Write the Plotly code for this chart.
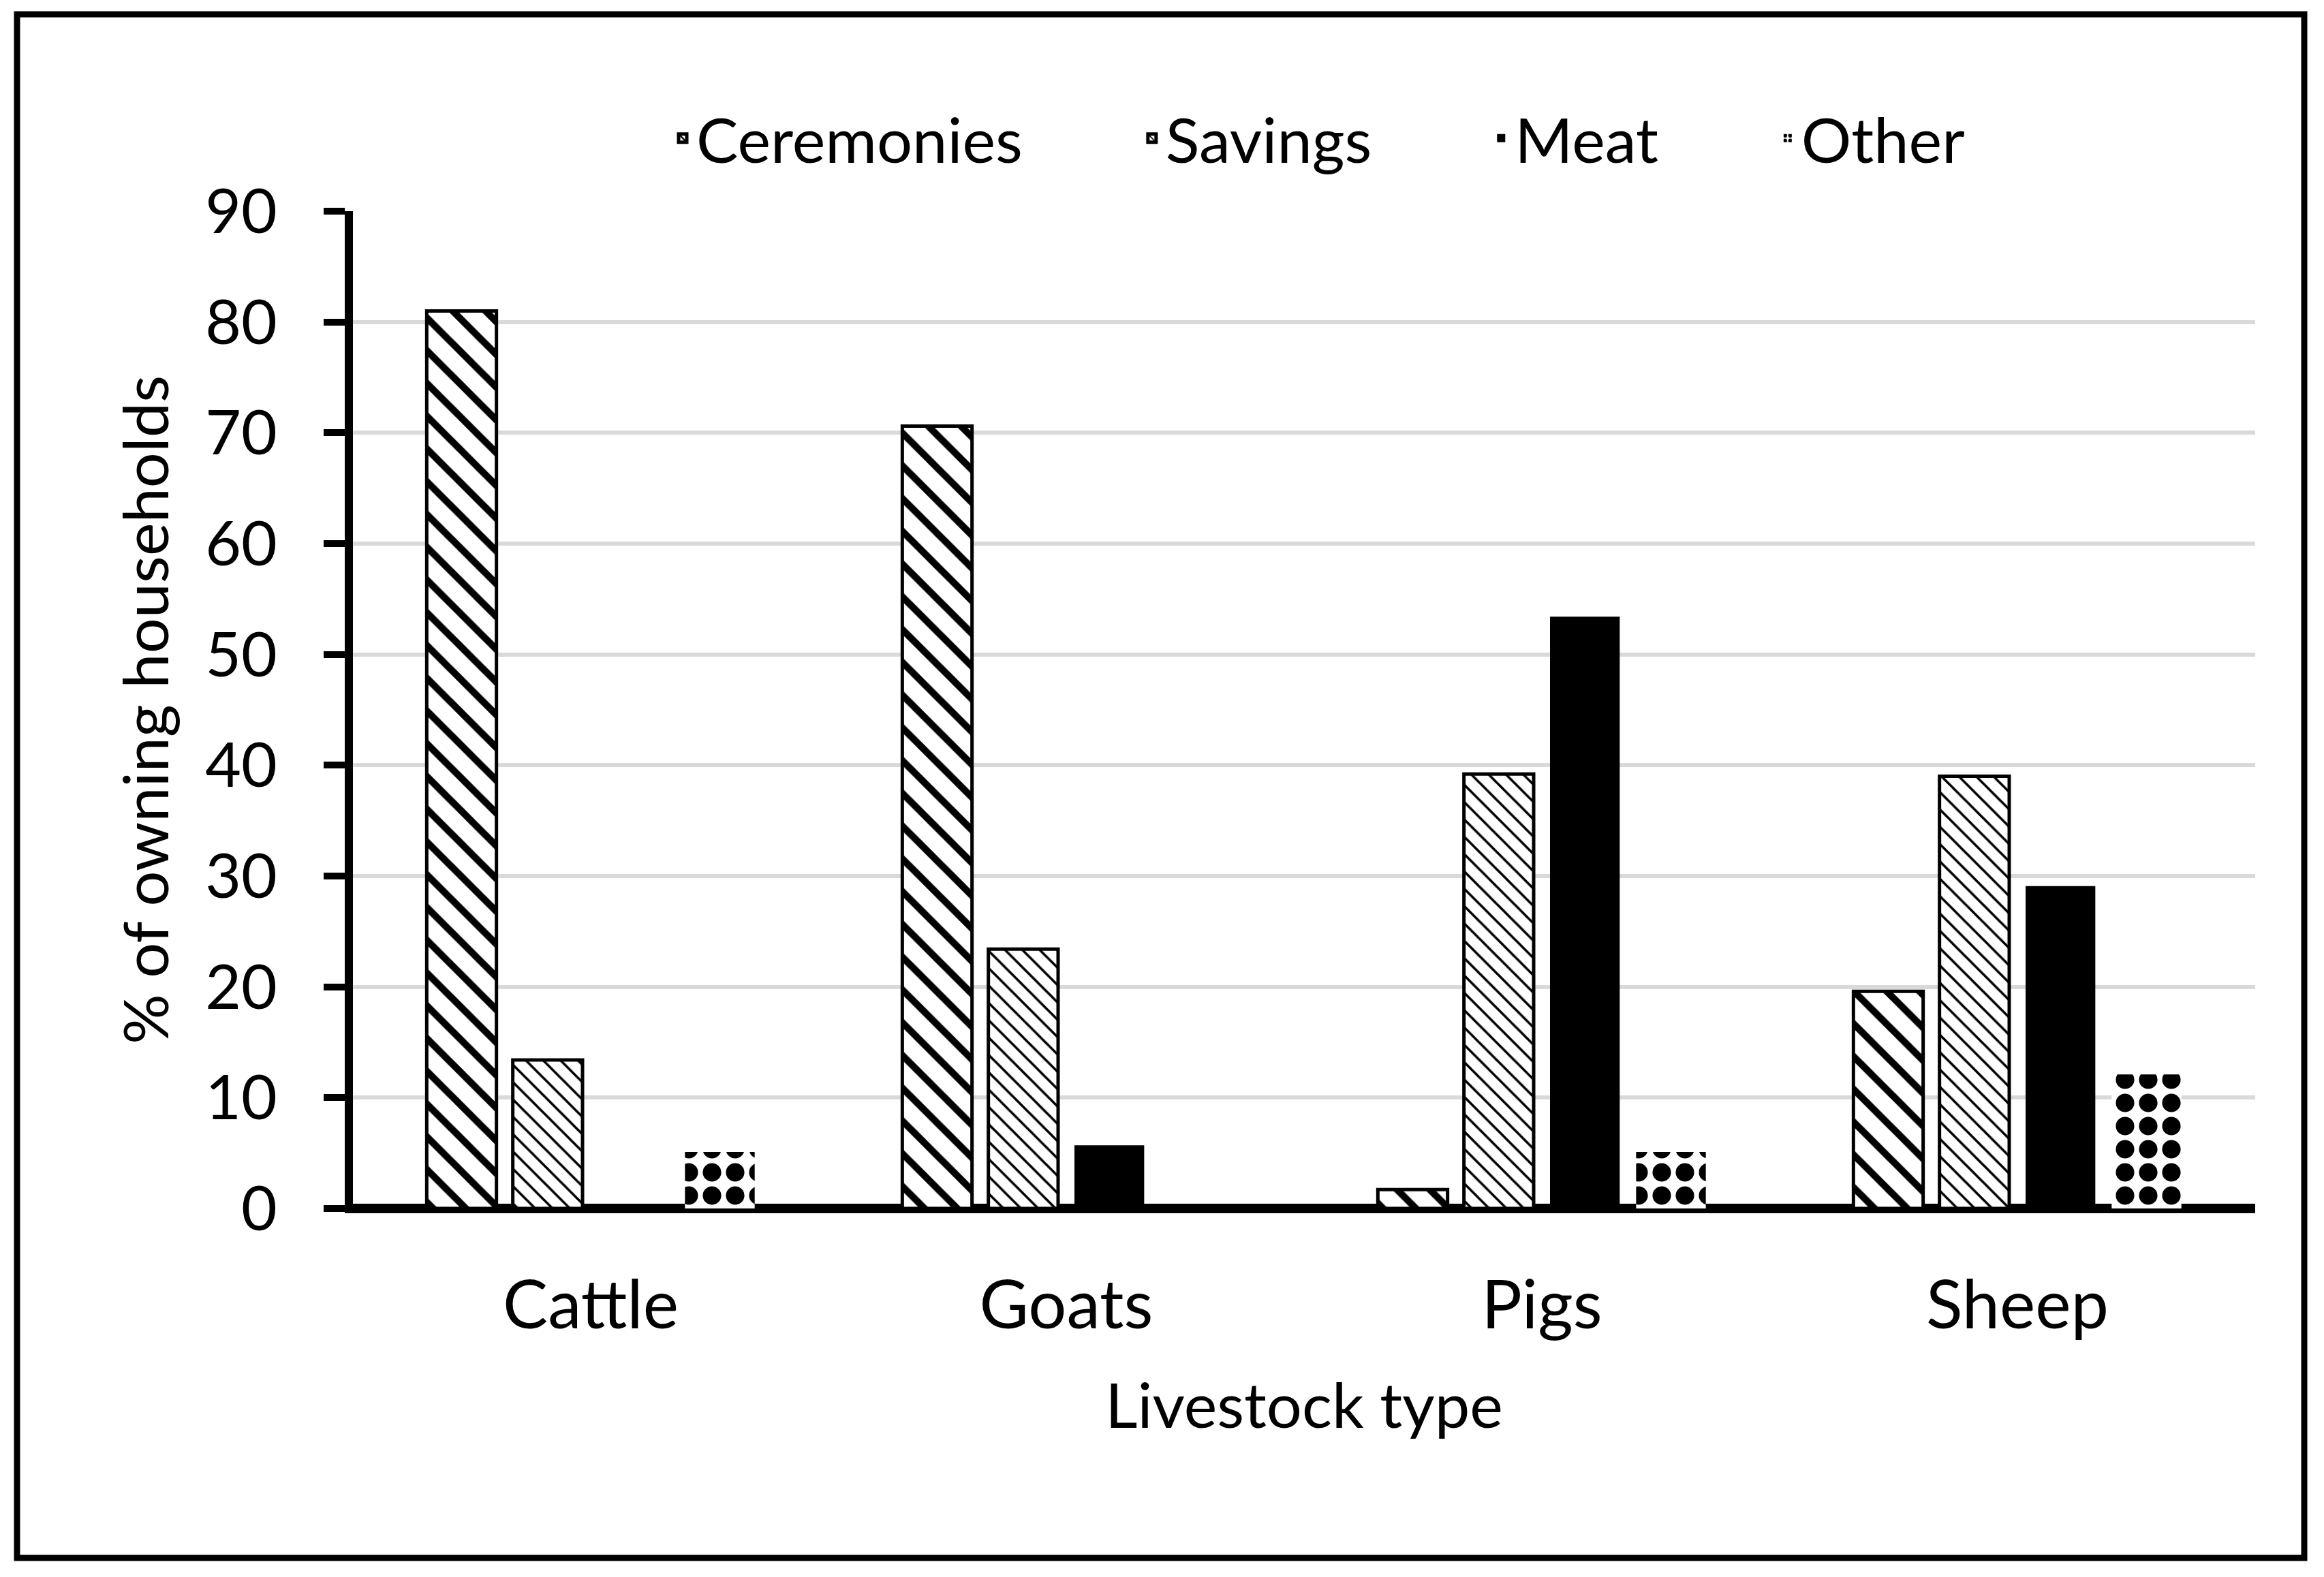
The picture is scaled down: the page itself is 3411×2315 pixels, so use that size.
import plotly.graph_objects as go

# ---- data ----
categories = ["Cattle", "Goats", "Pigs", "Sheep"]
ceremonies = [81.0, 70.6, 1.7, 19.6]
savings = [13.4, 23.4, 39.2, 39.0]
meat = [0.0, 5.7, 53.4, 29.1]
other = [5.1, 0.0, 5.1, 12.1]
series_names = ["Ceremonies", "Savings", "Meat", "Other"]
y_ticks = [0, 10, 20, 30, 40, 50, 60, 70, 80, 90]

# page body has an 8px default margin; size the figure to fill the window
OFF = 8
W, H = 3411 - OFF, 2315 - OFF
L, R, T, B = 510, 101, 302, 541
PW, PH = W - L - R, H - T - B
FONT = "Lato"
PAD = "\u00a0" * 7  # legend spacing between entries

fig = go.Figure()

fig.add_bar(
    x=categories, y=ceremonies, name=series_names[0] + PAD,
    marker=dict(color="white", line=dict(color="black", width=5),
                pattern=dict(shape="\\", size=34, solidity=0.3,
                             fgcolor="black", bgcolor="white", fgopacity=1)),
)
fig.add_bar(
    x=categories, y=savings, name=series_names[1] + PAD,
    marker=dict(color="white", line=dict(color="black", width=5),
                pattern=dict(shape="\\", size=18, solidity=0.2,
                             fgcolor="black", bgcolor="white", fgopacity=1)),
)
fig.add_bar(
    x=categories, y=meat, name=series_names[2] + PAD,
    marker=dict(color="black", line=dict(color="black", width=0)),
)
fig.add_bar(
    x=categories, y=other, name=series_names[3],
    marker=dict(color="white", line=dict(color="black", width=0),
                pattern=dict(shape=".", size=34, solidity=0.5,
                             fgcolor="black", bgcolor="white", fgopacity=1)),
)

def px2x(px):
    return (px - L) / PW

def py2y(py):
    return (H - B - py) / PH

fig.update_layout(
    width=W, height=H,
    margin=dict(l=L, r=R, t=T, b=B, autoexpand=False),
    paper_bgcolor="white", plot_bgcolor="white",
    font=dict(family=FONT, color="black", size=92),
    barmode="group", bargap=0.276, bargroupgap=0.19,
    showlegend=True,
    legend=dict(orientation="h", x=px2x(974), xanchor="left", y=py2y(195), yanchor="middle",
                font=dict(family=FONT, size=92, color="black"),
                bgcolor="rgba(0,0,0,0)", traceorder="normal"),
    xaxis=dict(
        showline=True, linecolor="black", linewidth=7,
        ticks="", showgrid=False, zeroline=False,
        tickfont=dict(family=FONT, size=99, color="black"),
        ticklabelstandoff=50,
        title=dict(text="Livestock type", font=dict(family=FONT, size=92, color="black"),
                   standoff=64),
        automargin=False,
    ),
    yaxis=dict(
        range=[0, 90], tickmode="array", tickvals=y_ticks,
        showgrid=True, gridcolor="#d9d9d9", gridwidth=6,
        showline=True, linecolor="black", linewidth=12,
        ticks="outside", ticklen=31, tickwidth=10, tickcolor="black",
        zeroline=True, zerolinecolor="black", zerolinewidth=14,
        tickfont=dict(family=FONT, size=91, color="black"),
        ticklabelstandoff=50,
        title=dict(text="% of owning households", font=dict(family=FONT, size=92, color="black"),
                   standoff=28),
        automargin=False,
    ),
    shapes=[dict(type="rect", xref="paper", yref="paper",
                 x0=px2x(17), x1=px2x(3374), y0=py2y(2279), y1=py2y(13),
                 line=dict(color="black", width=9), fillcolor="rgba(0,0,0,0)", layer="above")],
)

fig.write_html("out.html")
